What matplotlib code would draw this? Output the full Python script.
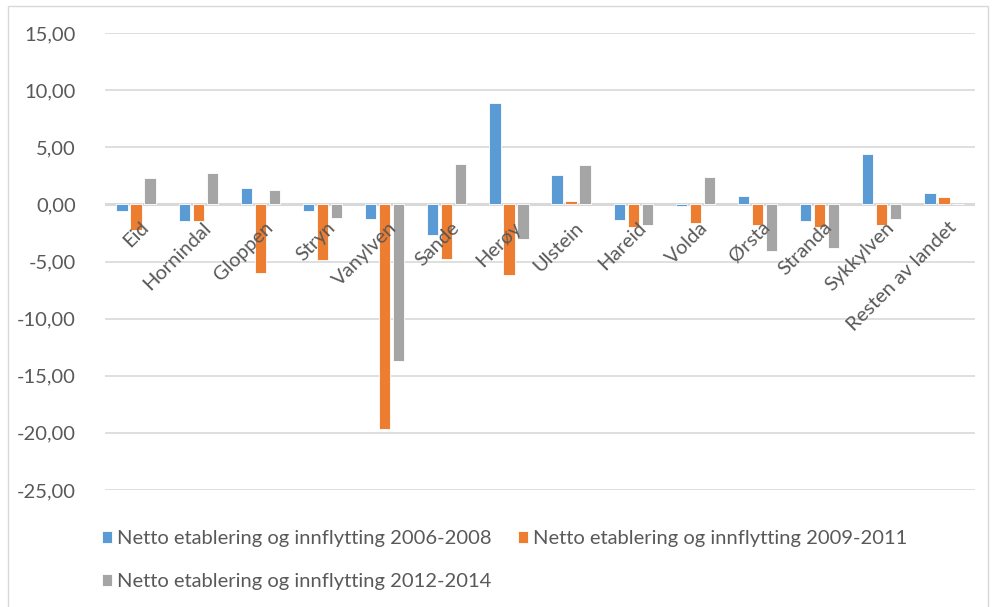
import matplotlib
matplotlib.use("Agg")
import matplotlib.pyplot as plt
import numpy as np
from matplotlib.patches import Rectangle

categories = ["Eid", "Hornindal", "Gloppen", "Stryn", "Vanylven", "Sande", "Herøy",
              "Ulstein", "Hareid", "Volda", "Ørsta", "Stranda", "Sykkylven",
              "Resten av landet"]
series_names = ["Netto etablering og innflytting 2006-2008",
                "Netto etablering og innflytting 2009-2011",
                "Netto etablering og innflytting 2012-2014"]
vals_2006_2008 = [-0.55, -1.45, 1.43, -0.55, -1.28, -2.68, 8.87, 2.60, -1.34, -0.15, 0.70, -1.49, 4.37, 1.02]
vals_2009_2011 = [-2.25, -1.43, -5.98, -4.84, -19.70, -4.76, -6.15, 0.32, -2.00, -1.66, -1.78, -1.95, -1.84, 0.67]
vals_2012_2014 = [2.30, 2.74, 1.28, -1.22, -13.68, 3.53, -3.00, 3.47, -1.78, 2.36, -4.10, -3.85, -1.31, 0.00]
y_ticks = [15, 10, 5, 0, -5, -10, -15, -20, -25]

colors = ["#5B9BD5", "#ED7D31", "#A5A5A5"]
text_color = "#595959"
grid_color = "#D9D9D9"
font = "Lato"
fs = 14.5

fig = plt.figure(figsize=(9.92, 6.07), dpi=100)
W, H = 992, 607
ax = fig.add_axes([105 / W, 1 - 490 / H, 870 / W, 457 / H])

x = np.arange(len(categories))
pitch = 0.225
width = 0.18
handles = []
for k, (vals, c, name) in enumerate(zip([vals_2006_2008, vals_2009_2011, vals_2012_2014], colors, series_names)):
    b = ax.bar(x + (k - 1) * pitch, vals, width=width, color=c, label=name, zorder=3,
               edgecolor="white", linewidth=0.6)
    handles.append(b)

ax.set_xlim(-0.5, len(categories) - 0.5)
ax.set_ylim(-25, 15)
ax.set_yticks(y_ticks)
ax.set_yticklabels([f"{v:.2f}".replace(".", ",") for v in y_ticks],
                   fontsize=fs, color=text_color, fontfamily=font)
ax.tick_params(axis="y", length=0, pad=21)
ax.set_xticks([])
for s in ax.spines.values():
    s.set_visible(False)
ax.grid(axis="y", color=grid_color, linewidth=1.2, zorder=0)
ax.axhline(0, color=grid_color, linewidth=2.2, zorder=2)

for i, name in enumerate(categories):
    ax.text(i + 0.06, -1.25, name, rotation=45, rotation_mode="anchor",
            ha="right", va="top", fontsize=fs, color=text_color, fontfamily=font, zorder=4)

# row-major legend order: first two on the top row, third below
order = [0, 2, 1]
leg = fig.legend([handles[i] for i in order], [series_names[i] for i in order],
                 loc="upper left", bbox_to_anchor=(84 / W, 1 - 512 / H), ncol=2,
                 frameon=False, handlelength=0.5, handleheight=0.5,
                 handletextpad=0.25, columnspacing=1.3, labelspacing=1.3,
                 prop={"family": font, "size": fs})
for t in leg.get_texts():
    t.set_color(text_color)

fig.patches.append(Rectangle((8 / W, -0.01), (988 - 8) / W, 1 - 6 / H + 0.01,
                             transform=fig.transFigure, fill=False,
                             edgecolor=grid_color, linewidth=1))

fig.savefig("out.png", dpi=100)
